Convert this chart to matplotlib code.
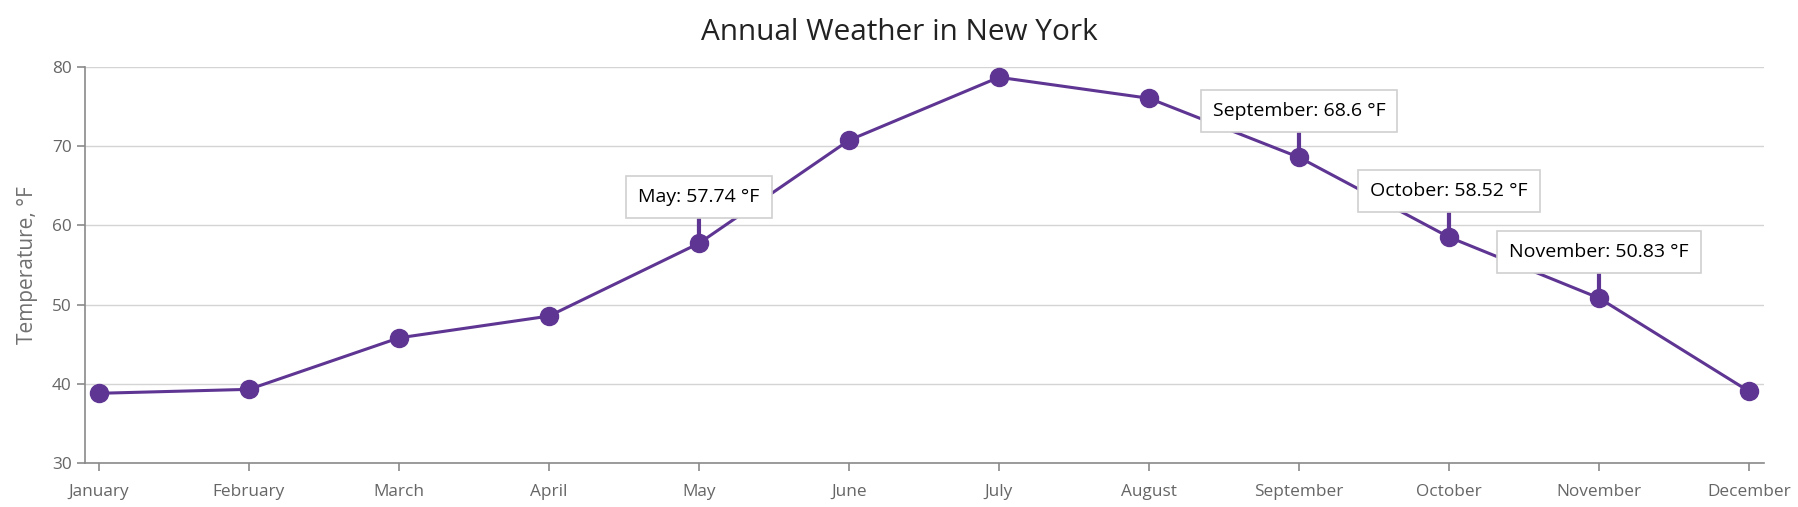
import matplotlib.pyplot as plt

months = ['January', 'February', 'March', 'April', 'May', 'June',
          'July', 'August', 'September', 'October', 'November', 'December']
temps = [38.8, 39.3, 45.8, 48.55, 57.74, 70.75, 78.7, 76.05, 68.6, 58.52, 50.83, 39.05]
labelled = ['May', 'September', 'October', 'November']
yticks = [30, 40, 50, 60, 70, 80]

purple = '#5e3592'
plt.rcParams['font.family'] = ['Open Sans', 'DejaVu Sans']

fig = plt.figure(figsize=(17.99, 5.07), dpi=100)
ax = fig.add_axes([85 / 1799, 44 / 507, 1679 / 1799, 396 / 507])

x = list(range(len(months)))
ax.plot(x, temps, color=purple, lw=2.2, marker='o', markersize=13, zorder=3)

for i, m in enumerate(months):
    if m in labelled:
        ax.annotate(f"{m}: {temps[i]:g} °F", xy=(i, temps[i]), xytext=(0, 46),
                    textcoords='offset pixels', ha='center', va='center',
                    fontsize=14, color='black', zorder=4,
                    bbox=dict(boxstyle='square,pad=0.62', fc='white', ec='#d0d0d0', lw=1.2),
                    arrowprops=dict(arrowstyle='-', color=purple, lw=3, shrinkA=0, shrinkB=0))

ax.set_xlim(-0.093, 11.1)
ax.set_ylim(30, 80)
ax.set_xticks(x)
ax.set_xticklabels(months)
ax.set_yticks(yticks)
ax.grid(axis='y', color='#d4d4d4', lw=1)
ax.set_axisbelow(True)
for s in ['top', 'right']:
    ax.spines[s].set_visible(False)
for s in ['left', 'bottom']:
    ax.spines[s].set_color('#8a8a8a')
    ax.spines[s].set_linewidth(1.2)
ax.tick_params(axis='both', colors='#8a8a8a', labelcolor='#666666', labelsize=12.4, length=6, width=1.2)
ax.tick_params(axis='x', pad=9)
ax.set_ylabel('Temperature, °F', fontsize=15, color='#707070', labelpad=10)
fig.text(0.5, 1 - 32 / 507, 'Annual Weather in New York', fontsize=21.4, color='#222222',
         ha='center', va='center')

plt.savefig('out.png', dpi=100)
